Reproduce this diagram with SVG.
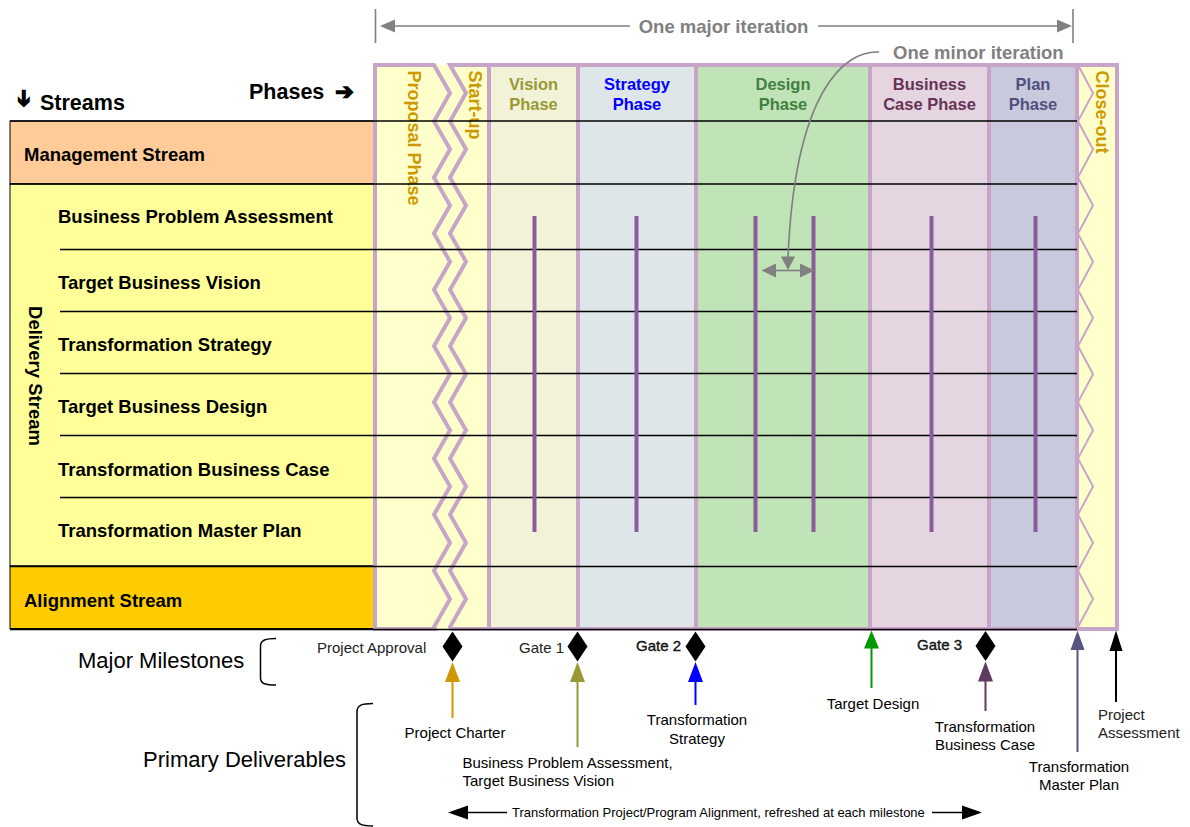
<svg xmlns="http://www.w3.org/2000/svg" width="1190" height="827" viewBox="0 0 1190 827">
  <style>
    text { font-family: "Liberation Sans", Arial, Helvetica, sans-serif; }
    .stream { font-size: 18.5px; font-weight: bold; fill: #000; }
    .head { font-size: 21.5px; font-weight: bold; fill: #000; }
    .ph { font-size: 16.5px; font-weight: bold; text-anchor: middle; }
    .phv { font-size: 18px; font-weight: bold; fill: #CC9900; }
    .iter { font-size: 18.5px; font-weight: bold; fill: #808080; }
    .ms { font-size: 15px; fill: #222; }
    .dl { font-size: 15px; fill: #000; }
    .mid { text-anchor: middle; }
    .big { font-size: 22px; fill: #000; }
    .small { font-size: 13px; fill: #000; }
    .arrowglyph { font-family: "DejaVu Sans", sans-serif; font-size: 22px; font-weight: bold; text-anchor: middle; dominant-baseline: central; fill: #000; stroke: #000; stroke-width: 1.4; }
    .border { stroke: #C8A5C8; stroke-width: 4; }
    .zig { fill: none; stroke: #C8A5C8; stroke-width: 2; }
    .row { stroke: #000; stroke-width: 1.4; }
    .bar { stroke: #8B5C9B; stroke-width: 4; }
    .gray { stroke: #808080; stroke-width: 1.6; fill: none; }
    .grayhead { fill: #808080; }
    .brace { fill: none; stroke: #000; stroke-width: 1.5; }
  </style>

  <rect x="0" y="0" width="1190" height="827" fill="#fff"/>

  <!-- column headings -->
  <g id="streams-heading">
    <text class="arrowglyph" transform="translate(24,98.5) rotate(90)">➔</text>
    <text class="head" x="40" y="110">Streams</text>
  </g>
  <g id="phases-heading">
    <text class="head" x="249" y="99">Phases</text>
    <text class="arrowglyph" x="344.5" y="91">➔</text>
  </g>

  <!-- stream rows (left table) -->
  <g id="management-stream">
    <rect x="10" y="121" width="365" height="63" fill="#FFCC99" stroke="#000" stroke-width="1"/>
    <text class="stream" x="24" y="160.5">Management Stream</text>
  </g>
  <g id="delivery-stream">
    <rect x="10" y="184" width="365" height="382" fill="#FFFF99" stroke="#000" stroke-width="1"/>
    <text class="stream mid" transform="translate(28.5,376) rotate(90)">Delivery Stream</text>
    <text class="stream" x="58" y="222.5">Business Problem Assessment</text>
    <text class="stream" x="58" y="289">Target Business Vision</text>
    <text class="stream" x="58" y="351">Transformation Strategy</text>
    <text class="stream" x="58" y="413">Target Business Design</text>
    <text class="stream" x="58" y="476">Transformation Business Case</text>
    <text class="stream" x="58" y="536.5">Transformation Master Plan</text>
  </g>
  <g id="alignment-stream">
    <rect x="10" y="566" width="365" height="62.5" fill="#FFCC00" stroke="#000" stroke-width="1"/>
    <text class="stream" x="24" y="606.5">Alignment Stream</text>
  </g>

  <!-- phase columns -->
  <rect x="375" y="65" width="742" height="564" fill="#FFFFCC"/>
  <g id="phase-proposal">
    <path class="border" fill="#FFFFCC" d="M375,65 H434 L450,93.1 L434,121.2 L450,149.3 L434,177.4 L450,205.5 L434,233.6 L450,261.7 L434,289.8 L450,317.9 L434,346 L450,374.1 L434,402.2 L450,430.3 L434,458.4 L450,486.5 L434,514.6 L450,542.7 L434,570.8 L450,598.9 L434,627 L435,629 H375 Z"/>
    <text class="phv" transform="translate(407.5,70.5) rotate(90)">Proposal Phase</text>
  </g>
  <g id="phase-startup">
    <path class="border" fill="#FFFFCC" d="M450,65 L466,93.1 L450,121.2 L466,149.3 L450,177.4 L466,205.5 L450,233.6 L466,261.7 L450,289.8 L466,317.9 L450,346 L466,374.1 L450,402.2 L466,430.3 L450,458.4 L466,486.5 L450,514.6 L466,542.7 L450,570.8 L466,598.9 L450,627 L451,629 H489 V65 Z"/>
    <text class="phv" transform="translate(469,70.5) rotate(90)">Start-up</text>
  </g>
  <g id="phase-vision">
    <rect class="border" x="489" y="65" width="89" height="564" fill="#F2F2D9"/>
    <text class="ph" fill="#999933" x="533.5" y="90">Vision</text>
    <text class="ph" fill="#999933" x="533.5" y="110">Phase</text>
  </g>
  <g id="phase-strategy">
    <rect class="border" x="578" y="65" width="118" height="564" fill="#DFE6EA"/>
    <text class="ph" fill="#0000FF" x="637" y="90">Strategy</text>
    <text class="ph" fill="#0000FF" x="637" y="110">Phase</text>
  </g>
  <g id="phase-design">
    <rect class="border" x="696" y="65" width="174" height="564" fill="#C0E3B8"/>
    <text class="ph" fill="#408040" x="783" y="90">Design</text>
    <text class="ph" fill="#408040" x="783" y="110">Phase</text>
  </g>
  <g id="phase-business-case">
    <rect class="border" x="870" y="65" width="119" height="564" fill="#E4D5E1"/>
    <text class="ph" fill="#663355" x="929.5" y="90">Business</text>
    <text class="ph" fill="#663355" x="929.5" y="110">Case Phase</text>
  </g>
  <g id="phase-plan">
    <rect class="border" x="989" y="65" width="88" height="564" fill="#C8C9DC"/>
    <text class="ph" fill="#505080" x="1033" y="90">Plan</text>
    <text class="ph" fill="#505080" x="1033" y="110">Phase</text>
  </g>
  <g id="phase-closeout">
    <rect class="border" x="1077" y="65" width="40" height="564" fill="#FFFFCC"/>
    <polyline class="zig" points="1078,65 1093,93.1 1078,121.2 1093,149.3 1078,177.4 1093,205.5 1078,233.6 1093,261.7 1078,289.8 1093,317.9 1078,346 1093,374.1 1078,402.2 1093,430.3 1078,458.4 1093,486.5 1078,514.6 1093,542.7 1078,570.8 1093,598.9 1078,627"/>
    <text class="phv" transform="translate(1095.5,70.5) rotate(90)">Close-out</text>
  </g>

  <!-- grid rules across streams and phases -->
  <g id="grid">
    <line class="row" x1="10" y1="121" x2="1077" y2="121"/>
    <line class="row" x1="10" y1="184" x2="1077" y2="184"/>
    <line class="row" x1="60" y1="249.5" x2="1077" y2="249.5"/>
    <line class="row" x1="60" y1="311.5" x2="1077" y2="311.5"/>
    <line class="row" x1="60" y1="373.5" x2="1077" y2="373.5"/>
    <line class="row" x1="60" y1="435.5" x2="1077" y2="435.5"/>
    <line class="row" x1="60" y1="497.5" x2="1077" y2="497.5"/>
    <line class="row" x1="10" y1="566.5" x2="1077" y2="566.5"/>
    <line class="row" x1="10" y1="629.5" x2="1077" y2="629.5"/>
  </g>

  <!-- iteration markers inside the phases -->
  <g id="iteration-bars">
    <line class="bar" x1="534.5" y1="216" x2="534.5" y2="532"/>
    <line class="bar" x1="636.5" y1="216" x2="636.5" y2="532"/>
    <line class="bar" x1="755.5" y1="216" x2="755.5" y2="532"/>
    <line class="bar" x1="813.5" y1="216" x2="813.5" y2="532"/>
    <line class="bar" x1="931.5" y1="216" x2="931.5" y2="532"/>
    <line class="bar" x1="1035.5" y1="216" x2="1035.5" y2="532"/>
  </g>

  <g id="major-iteration">
    <line class="gray" x1="375.5" y1="9" x2="375.5" y2="43"/>
    <line class="gray" x1="1073" y1="9" x2="1073" y2="43"/>
    <text class="iter mid" x="723.5" y="33">One major iteration</text>
  </g>
  <g id="minor-iteration">
    <text class="iter" x="893" y="59">One minor iteration</text>
  </g>

  <!-- milestones -->
  <g id="milestone-project-approval">
    <polygon points="452.5,631.5 462.5,646.5 452.5,661.5 442.5,646.5" fill="#000"/>
    <text class="ms" x="317" y="653">Project Approval</text>
  </g>
  <g id="milestone-gate1">
    <polygon points="577.5,631.5 587.5,646.5 577.5,661.5 567.5,646.5" fill="#000"/>
    <text class="ms" x="519" y="652.5">Gate 1</text>
  </g>
  <g id="milestone-gate2">
    <polygon points="695.5,631.5 705.5,646.5 695.5,661.5 685.5,646.5" fill="#000"/>
    <text class="ms" x="636" y="651" fill="#000" stroke="#000" stroke-width="0.35">Gate 2</text>
  </g>
  <g id="milestone-gate3">
    <polygon points="985.5,631 995.5,646 985.5,661 975.5,646" fill="#000"/>
    <text class="ms" x="917" y="649.5" fill="#000" stroke="#000" stroke-width="0.35">Gate 3</text>
  </g>

  <!-- deliverable labels -->
  <g id="deliverable-charter"><text class="dl mid" x="455" y="738">Project Charter</text></g>
  <g id="deliverable-vision">
    <text class="dl" x="462.5" y="768">Business Problem Assessment,</text>
    <text class="dl" x="462.5" y="786">Target Business Vision</text>
  </g>
  <g id="deliverable-strategy">
    <text class="dl mid" x="697" y="725">Transformation</text>
    <text class="dl mid" x="697" y="743.5">Strategy</text>
  </g>
  <g id="deliverable-design"><text class="dl mid" x="873" y="708.5">Target Design</text></g>
  <g id="deliverable-business-case">
    <text class="dl mid" x="985" y="732">Transformation</text>
    <text class="dl mid" x="985" y="750">Business Case</text>
  </g>
  <g id="deliverable-master-plan">
    <text class="dl mid" x="1079" y="772">Transformation</text>
    <text class="dl mid" x="1079" y="789.5">Master Plan</text>
  </g>
  <g id="deliverable-assessment">
    <text class="ms" x="1098" y="720">Project</text>
    <text class="ms" x="1098" y="737.5">Assessment</text>
  </g>

  <g id="legend-milestones">
    <text class="big" x="78" y="668">Major Milestones</text>
    <path class="brace" d="M276,638.5 C266,638.5 260.5,640 260.5,646 V678 C260.5,684 266,685 276,685"/>
  </g>
  <g id="legend-deliverables">
    <text class="big" x="143" y="767">Primary Deliverables</text>
    <path class="brace" d="M373,703.5 C362,703.5 357,705 357,712 V818 C357,824.5 362,826 373,826"/>
  </g>
  <g id="alignment-note">
    <text class="small" x="512" y="817">Transformation Project/Program Alignment, refreshed at each milestone</text>
  </g>

  <!-- connectors -->
  <g id="connectors">
    <!-- major iteration span -->
    <line class="gray" x1="392" y1="26" x2="630" y2="26"/>
    <polygon class="grayhead" points="380,26 395,19.5 395,32.5"/>
    <line class="gray" x1="818" y1="26" x2="1058" y2="26"/>
    <polygon class="grayhead" points="1072,26 1057,19.5 1057,32.5"/>

    <!-- minor iteration callout -->
    <path class="gray" d="M879,52 C845,50 795,90 788,258"/>
    <polygon class="grayhead" points="788,270 781,256.5 795,256.5"/>
    <line class="gray" x1="774" y1="270.5" x2="802" y2="270.5"/>
    <polygon class="grayhead" points="761.5,270.5 776,263.5 776,277.5"/>
    <polygon class="grayhead" points="814.5,270.5 800,263.5 800,277.5"/>

    <!-- deliverables feeding milestones -->
    <line x1="452.5" y1="718" x2="452.5" y2="680" stroke="#CC9900" stroke-width="2"/>
    <polygon points="452.5,662 445,682 460,682" fill="#CC9900"/>

    <line x1="577.5" y1="747" x2="577.5" y2="680" stroke="#999933" stroke-width="2"/>
    <polygon points="577.5,662 570,682 585,682" fill="#999933"/>

    <line x1="695.5" y1="705" x2="695.5" y2="680" stroke="#0000FF" stroke-width="2"/>
    <polygon points="695.5,662 688,682 703,682" fill="#0000FF"/>

    <line x1="871.5" y1="688" x2="871.5" y2="646" stroke="#009900" stroke-width="2"/>
    <polygon points="871.5,630.5 864,648.5 879,648.5" fill="#009900"/>

    <line x1="985.5" y1="711" x2="985.5" y2="679" stroke="#5E3B5E" stroke-width="2"/>
    <polygon points="985.5,661.5 978,681.5 993,681.5" fill="#5E3B5E"/>

    <line x1="1077.5" y1="752" x2="1077.5" y2="648" stroke="#55557F" stroke-width="2"/>
    <polygon points="1077.5,630.5 1070.5,650 1084.5,650" fill="#55557F"/>

    <line x1="1116" y1="702" x2="1116" y2="648" stroke="#000" stroke-width="2"/>
    <polygon points="1116,630.5 1109.5,651 1122.5,651" fill="#000"/>

    <!-- alignment refresh span -->
    <line x1="466" y1="812.5" x2="507" y2="812.5" stroke="#000" stroke-width="1.5"/>
    <polygon points="448,812.5 468,805.5 468,819.5" fill="#000"/>
    <line x1="932" y1="812.5" x2="964" y2="812.5" stroke="#000" stroke-width="1.5"/>
    <polygon points="982,812.5 962,805.5 962,819.5" fill="#000"/>
  </g>
</svg>
